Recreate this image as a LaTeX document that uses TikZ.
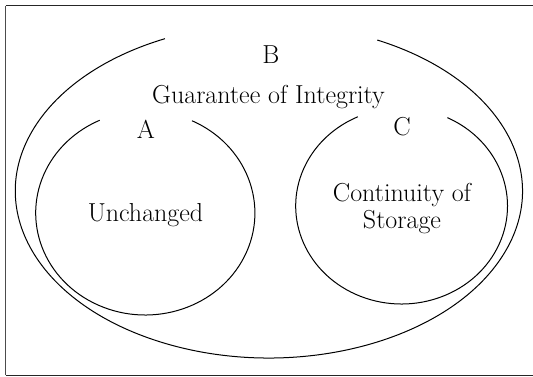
\documentclass[tikz,border=0pt]{standalone}
\usepackage{fontspec}
\setmainfont{Latin Modern Roman}
\begin{document}
\begin{tikzpicture}[x=0.75pt,y=-0.75pt,
  venn/.style={line width=0.75pt,black},
  lbl/.style={font=\fontsize{19.5}{20}\selectfont,inner sep=0pt,anchor=base,align=center}]
\useasboundingbox (0,0) rectangle (533,376);
% outer frame
\draw[black!70,line width=0.9pt] (5.5,375) -- (5.5,5.5);
\draw[black!85,line width=0.75pt] (5.5,5.5) -- (533,5.5);
\draw[black!85,line width=0.75pt] (5.5,375) -- (533,375);
% ellipse centres
\coordinate (cB) at (268.9,191);
\coordinate (cA) at (145.3,213);
\coordinate (cC) at (401.6,206);
% open ellipses, each with a gap at the top
\draw[venn] ([shift={(-64.7:253.6 and 167)}]cB) arc[start angle=-64.7, end angle=245.8, x radius=253.6, y radius=167];
\draw[venn] ([shift={(-64.8:109.6 and 102)}]cA) arc[start angle=-64.8, end angle=245.4, x radius=109.6, y radius=102];
\draw[venn] ([shift={(-64.4:105.9 and 98)}]cC) arc[start angle=-64.4, end angle=245.6, x radius=105.9, y radius=98];
% labels
\node[lbl] (tB) at (271,63.3) {B};
\node[lbl] (tG) at (268.5,103.3) {Guarantee of Integrity};
\node[lbl] (tA) at (146,138.3) {A};
\node[lbl] (tC) at (402,135) {C};
\node[lbl] (tU) at (145.5,221.7) {Unchanged};
\node[lbl] (tS) at (402,228.3) {Continuity of\\Storage};
\end{tikzpicture}
\end{document}
